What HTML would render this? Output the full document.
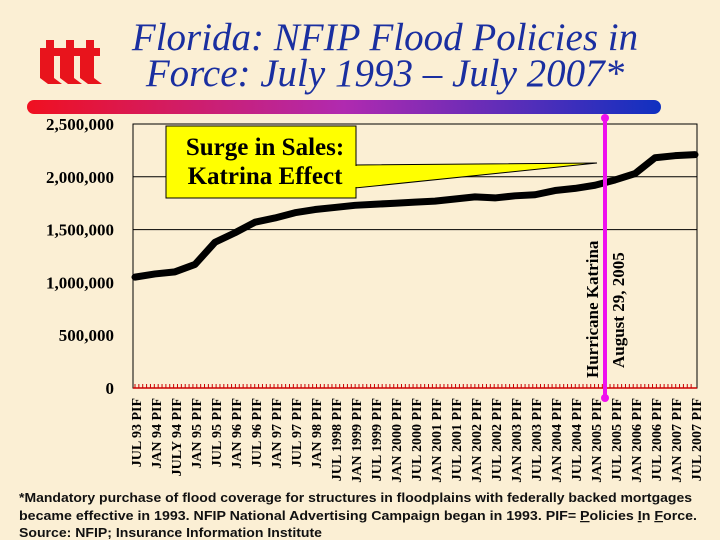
<!DOCTYPE html>
<html><head><meta charset="utf-8"><style>
body{margin:0;width:720px;height:540px;background:#fbefd4;overflow:hidden;position:relative;font-family:"Liberation Serif",serif}
.t{position:absolute;left:80px;width:610px;text-align:center;color:#1a2fa0;font-style:italic;font-size:39px;line-height:36px}
</style></head><body>
<svg width="720" height="540" style="position:absolute;left:0;top:0">
<defs><linearGradient id="g" x1="0" x2="1"><stop offset="0" stop-color="#f01020"/><stop offset="0.5" stop-color="#b02ab0"/><stop offset="1" stop-color="#1030c0"/></linearGradient></defs>
<g fill="#e8141c">
<path d="M40 48h6v-8h8v8h6v8h-6v22l8 6h-14l-8-6z"/>
<path d="M60 48h6v-8h8v8h6v8h-6v22l8 6h-14l-8-6z"/>
<path d="M80 48h6v-8h8v8h6v8h-6v22l8 6h-14l-8-6z"/>
</g>
<rect x="27" y="100" width="634" height="14" rx="7" fill="url(#g)"/>
<g font-family="Liberation Sans, sans-serif" font-weight="bold" font-size="12.5" fill="#111">
<text x="19" y="502" textLength="673" lengthAdjust="spacingAndGlyphs">*Mandatory purchase of flood coverage for structures in floodplains with federally backed mortgages</text>
<text x="19" y="520" textLength="678" lengthAdjust="spacingAndGlyphs">became effective in 1993. NFIP National Advertising Campaign began in 1993.   PIF= <tspan text-decoration="underline">P</tspan>olicies <tspan text-decoration="underline">I</tspan>n <tspan text-decoration="underline">F</tspan>orce.</text>
<text x="19" y="537" textLength="303" lengthAdjust="spacingAndGlyphs">Source: NFIP; Insurance Information Institute</text>
</g>
</svg>
<div class="t" style="top:20px">Florida: NFIP Flood Policies in<br>Force: July 1993 – July 2007*</div>
<svg id="chart" width="720" height="540" style="position:absolute;left:0;top:0"></svg>
<script>
const categories=["JUL 93 PIF","JAN 94 PIF","JULY 94 PIF","JAN 95 PIF","JUL 95 PIF","JAN 96 PIF","JUL 96 PIF","JAN 97 PIF","JUL 97 PIF","JAN 98 PIF","JUL 1998 PIF","JAN 1999 PIF","JUL 1999 PIF","JAN 2000 PIF","JUL 2000 PIF","JAN 2001 PIF","JUL 2001 PIF","JAN 2002 PIF","JUL 2002 PIF","JAN 2003 PIF","JUL 2003 PIF","JAN 2004 PIF","JUL 2004 PIF","JAN 2005 PIF","JUL 2005 PIF","JAN 2006 PIF","JUL 2006 PIF","JAN 2007 PIF","JUL 2007 PIF"];
const policies=[1050000,1080000,1100000,1170000,1380000,1470000,1570000,1610000,1660000,1690000,1710000,1730000,1740000,1750000,1760000,1770000,1790000,1810000,1800000,1820000,1830000,1870000,1890000,1920000,1970000,2030000,2180000,2200000,2210000];
const yTicks=[0,500000,1000000,1500000,2000000,2500000];
const yTickLabels=["0","500,000","1,000,000","1,500,000","2,000,000","2,500,000"];
const gridValues=[1500000,2000000];
const katrinaIndex=23.5;
const NS="http://www.w3.org/2000/svg";
const svg=document.getElementById('chart');
const X0=133,X1=697,Y0=388,Y1=124;
const xs=i=>135+i*(560/(categories.length-1));
const ys=v=>Y0-(v/2500000)*(Y0-Y1);
function mk(t,a){const e=document.createElementNS(NS,t);for(const k in a)e.setAttribute(k,a[k]);svg.appendChild(e);return e;}
let e;
e=mk('rect',{x:X0,y:Y1,width:X1-X0,height:Y0-Y1,fill:'none',stroke:'#000','stroke-width':1});


gridValues.forEach(v=>{const g=mk('line',{x1:X0,x2:X1,y1:ys(v),y2:ys(v),stroke:'#000','stroke-width':1});

});
yTicks.forEach((v,i)=>{const t=mk('text',{x:114,y:ys(v)+6,'text-anchor':'end','font-weight':'bold','font-size':17,fill:'#000'});t.textContent=yTickLabels[i];

});
e=mk('line',{x1:X0,x2:X1,y1:Y0,y2:Y0,stroke:'#c00','stroke-width':1.5});


for(let i=0;i<categories.length*5;i++){const x=X0+2+i*(X1-X0-4)/(categories.length*5);const tk=mk('line',{x1:x,x2:x,y1:Y0,y2:Y0-4,stroke:'#c00','stroke-width':1});

}
categories.forEach((c,i)=>{const x=xs(i)+6;const t=mk('text',{x:0,y:0,transform:`translate(${x},${Y0+10}) rotate(-90)`,'text-anchor':'end','font-weight':'bold','font-size':14,fill:'#000'});t.textContent=c;

});
e=mk('polyline',{points:policies.map((v,i)=>xs(i)+','+ys(v)).join(' '),fill:'none',stroke:'#000','stroke-width':7,'stroke-linejoin':'round','stroke-linecap':'round'});


const kx=xs(katrinaIndex);
e=mk('line',{x1:kx,x2:kx,y1:118,y2:398,stroke:'#ee10ee','stroke-width':4});


[118,398].forEach(y=>{const d=mk('circle',{cx:kx,cy:y,r:4,fill:'#ee10ee'});

});
e=mk('text',{transform:`translate(${kx-7},378) rotate(-90)`,'font-weight':'bold','font-size':17,fill:'#000'});e.textContent='Hurricane Katrina';


e=mk('text',{transform:`translate(${kx+19},368) rotate(-90)`,'font-weight':'bold','font-size':17,fill:'#000'});e.textContent='August 29, 2005';


e=mk('polygon',{points:'355,165 597,163 355,188',fill:'#ffff00',stroke:'#000','stroke-width':1});


e=mk('rect',{x:166,y:126,width:190,height:72,fill:'#ffff00',stroke:'#000','stroke-width':1});


e=mk('line',{x1:356,x2:356,y1:166,y2:187,stroke:'#ffff00','stroke-width':2});
[['Surge in Sales:',155],['Katrina Effect',184]].forEach(([s,y])=>{const t=mk('text',{x:265,y:y,'text-anchor':'middle','font-weight':'bold','font-size':25,fill:'#000'});t.textContent=s;

});
</script>
</body></html>
